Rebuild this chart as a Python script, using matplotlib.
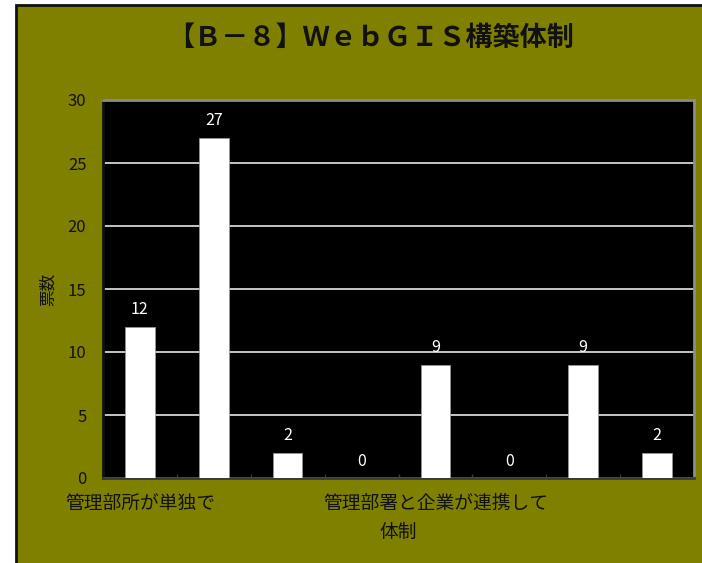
import matplotlib
matplotlib.use("Agg")
import matplotlib.pyplot as plt
from matplotlib.patches import Rectangle
from matplotlib.ticker import FixedLocator, NullFormatter

plt.rcParams['font.family'] = ['Noto Sans CJK JP', 'DejaVu Sans']

# Data
categories = ['管理部所が単独で', '', '', '', '管理部署と企業が連携して', '', '', '']
votes = [12, 27, 2, 0, 9, 0, 9, 2]
yticks = [0, 5, 10, 15, 20, 25, 30]
title = '【Ｂ－８】ＷｅｂＧＩＳ構築体制'
ylabel = '票数'
xlabel = '体制'

OLIVE = '#808000'

fig = plt.figure(figsize=(7.02, 5.63), dpi=100)
fig.patch.set_facecolor('white')

# Olive chart area with a dark border on the left and top edges
W, H = 702, 563
fig.patches.append(Rectangle((16 / W, -0.05), 1.2, (563 - 5) / H + 0.05,
                             transform=fig.transFigure, facecolor=OLIVE,
                             edgecolor='#111111', linewidth=2, zorder=-5))

ax = fig.add_axes([103 / W, (H - 478) / H, (694 - 103) / W, (478 - 100) / H])
ax.set_zorder(2)
ax.set_facecolor('black')

x = list(range(len(votes)))
bars = ax.bar(x, votes, width=0.4, color='white', edgecolor='#9a9a9a',
              linewidth=0.5, zorder=3)

for xi, v in zip(x, votes):
    ax.annotate(str(v), (xi, v), xytext=(0, 6), textcoords='offset points',
                ha='center', va='bottom', color='white', fontsize=11.5, zorder=4)

ax.set_xlim(-0.5, len(votes) - 0.5)
ax.set_ylim(0, 30)
ax.set_yticks(yticks)
ax.yaxis.grid(True, color='#e6e6e6', linewidth=1.2, zorder=1)
ax.set_axisbelow(True)

ax.set_xticks(x)
ax.set_xticklabels(categories, fontsize=13.5, color='#111111')
ax.xaxis.set_minor_locator(FixedLocator([i + 0.5 for i in range(-1, len(votes))]))
ax.xaxis.set_minor_formatter(NullFormatter())
ax.tick_params(axis='x', which='major', length=0, pad=11)
ax.tick_params(axis='x', which='minor', length=3, direction='in', color='#3a3a3a', width=1)
ax.tick_params(axis='y', length=0, pad=12, labelsize=12, labelcolor='#111111')

for side, col in [('left', '#111111'), ('bottom', '#3a3a3a'), ('top', '#8c8c8c'), ('right', '#8c8c8c')]:
    ax.spines[side].set_color(col)
    ax.spines[side].set_linewidth(2)

ax.set_ylabel(ylabel, fontsize=12, color='#111111', labelpad=8)
ax.set_xlabel(xlabel, fontsize=13.5, color='#111111', va='center')
ax.xaxis.set_label_coords(0.5, -(532 - 478) / (478 - 100))

fig.text(371 / W, 1 - 38 / H, title, ha='center', va='center',
         fontsize=19.5, fontweight='bold', color='#111111')

fig.savefig('out.png', dpi=100, facecolor=fig.get_facecolor())
